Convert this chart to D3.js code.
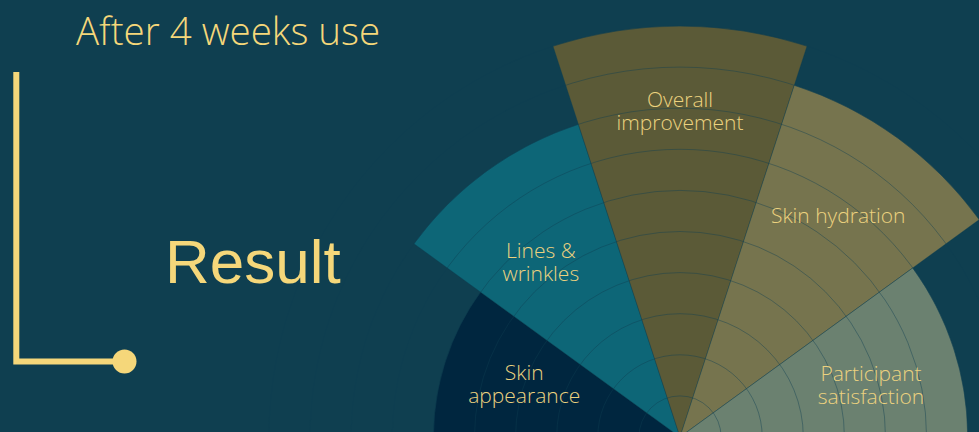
<!DOCTYPE html>
<html><head><meta charset="utf-8">
<script src="https://cdn.jsdelivr.net/npm/d3@7"></script>
<style>html,body{margin:0;padding:0;background:#0f3f50;overflow:hidden}</style>
</head><body><svg id="c" width="979" height="432"></svg>
<script>
// ---- data ----
const categories = ["Skin appearance", "Lines & wrinkles", "Overall improvement", "Skin hydration", "Participant satisfaction"];
const labelLines = [["Skin", "appearance"], ["Lines &", "wrinkles"], ["Overall", "improvement"], ["Skin hydration"], ["Participant", "satisfaction"]];
const values = [60, 80, 100, 90, 70];
const radialTicks = [10, 20, 30, 40, 50, 60, 70, 80, 90, 100];
const colors = ["#00263f", "#0d6677", "#5b5a37", "#76744e", "#6b8170"];
const titleText = "After 4 weeks use";
const headingText = "Result";

// ---- drawing ----
const W = 979, H = 432, bg = "#0f3f50", gold = "#f5d77a", labelGold = "#ecd27f";
const cx = 680, cy = 437;
const svg = d3.select("#c");
svg.append("rect").attr("width", W).attr("height", H).attr("fill", bg);

const angle = d3.scaleBand().domain(categories).range([-Math.PI / 2, Math.PI / 2]).paddingInner(0).paddingOuter(0);
const r = d3.scaleLinear().domain([0, 100]).range([0, 411]);

const g = svg.append("g").attr("transform", `translate(${cx},${cy})`);
const arc = d3.arc().innerRadius(0)
  .outerRadius((d, i) => r(values[i]))
  .startAngle(d => angle(d))
  .endAngle(d => angle(d) + angle.bandwidth());

g.selectAll("path.wedge").data(categories).join("path")
  .attr("class", "wedge")
  .attr("d", (d, i) => arc(d, i))
  .attr("fill", (d, i) => colors[i])
  .attr("stroke", bg).attr("stroke-opacity", 0.35).attr("stroke-width", 1);

// grid rings
g.selectAll("circle.grid").data(radialTicks).join("circle")
  .attr("class", "grid")
  .attr("r", d => r(d))
  .attr("fill", "none")
  .attr("stroke", bg).attr("stroke-opacity", 0.42).attr("stroke-width", 1);

// labels (placement tuning: fraction of wedge radius, small angular nudge in degrees)
const labelFactor = [0.667, 0.68, 0.793, 0.735, 0.688];
const labelNudge = [0.7, -2.5, 0, -0.4, 2.8];
const lh = 23;
categories.forEach((c, i) => {
  const a = angle(c) + angle.bandwidth() / 2 + labelNudge[i] * Math.PI / 180;
  const rr = r(values[i]) * labelFactor[i];
  const x = Math.sin(a) * rr, y = -Math.cos(a) * rr;
  const lines = labelLines[i];
  const t = g.append("text")
    .attr("text-anchor", "middle")
    .attr("font-family", "'Open Sans', sans-serif")
    .attr("font-weight", 300)
    .attr("font-size", 21)
    .attr("fill", labelGold);
  lines.forEach((ln, k) => {
    t.append("tspan").attr("x", x)
      .attr("y", y + (k - (lines.length - 1) / 2) * lh + 7.5)
      .text(ln);
  });
});

// title
svg.append("text").attr("x", 76).attr("y", 45)
  .attr("font-family", "'Open Sans', sans-serif").attr("font-weight", 300)
  .attr("font-size", 38.5).attr("fill", gold).text(titleText);

// L bracket
svg.append("path")
  .attr("d", "M16.3,72 V361.5 H124.5")
  .attr("fill", "none").attr("stroke", gold).attr("stroke-width", 6);
svg.append("circle").attr("cx", 124.5).attr("cy", 361.5).attr("r", 12).attr("fill", gold);

svg.append("text").attr("x", 165).attr("y", 283)
  .attr("font-family", "'Liberation Sans', Arial, sans-serif")
  .attr("font-size", 62).attr("fill", gold).text(headingText);
</script></body></html>
